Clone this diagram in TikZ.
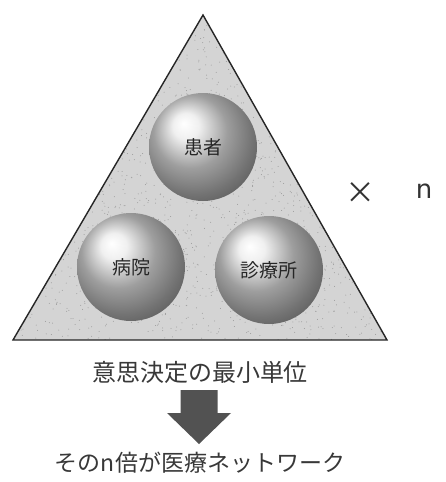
\documentclass[tikz,border=0pt]{standalone}
\usepackage{fontspec}
\newfontfamily\jp{Noto Sans CJK JP}
\setsansfont{DejaVu Sans}
\pgfdeclareradialshading{softball}{\pgfpoint{-9bp}{11bp}}{%
  color(0bp)=(white); color(6bp)=(black!6); color(17bp)=(black!38);
  color(27bp)=(black!55); color(36bp)=(black!68); color(50bp)=(black!75)}
\begin{document}
\begin{tikzpicture}[x=1pt,y=-1pt,
  ball/.style={circle, minimum size=108pt, inner sep=0pt, shading=softball},
  balltext/.style={font=\jp\fontsize{19}{19}\selectfont, text=black!85},
  label/.style={font=\jp\fontsize{24}{24}\selectfont, text=black!78},
  blockarrow/.style={fill=black!68}]
\useasboundingbox (0,0) rectangle (445,482);
% triangle
\coordinate (apex) at (203,15);
\coordinate (bl) at (13,340);
\coordinate (br) at (387,340);
\fill[black!17] (apex) -- (bl) -- (br) -- cycle;
\pgfmathsetseed{7}
\foreach \i in {1,...,1100}{
  \pgfmathsetmacro{\u}{rnd}
  \pgfmathsetmacro{\v}{rnd}
  \pgfmathsetmacro{\w}{sqrt(\u)}
  \pgfmathsetmacro{\px}{203 + \w*((1-\v)*(-190) + \v*184)}
  \pgfmathsetmacro{\py}{15 + \w*325}
  \fill[black!40] (\px,\py) circle (0.5);
}
\draw[line width=1.4pt, line join=miter, black!85] (apex) -- (bl) -- (br) -- cycle;
% balls
\node[ball] (kanja) at (203,147) {};
\node[ball] (byoin) at (131,267) {};
\node[ball] (shinryo) at (269,270) {};
\node[balltext] at (kanja) {患者};
\node[balltext] at (byoin) {病院};
\node[balltext] at (shinryo) {診療所};
% times n
\node[font=\jp\fontsize{30}{30}\selectfont, text=black!80] (times) at (360,193) {×};
\node[font=\sffamily\fontsize{26}{26}\selectfont, text=black!80] (n) at (424,191) {n};
% labels
\node[label] (unit) at (200,372) {意思決定の最小単位};
\node[font=\jp\fontsize{23}{23}\selectfont, text=black!78] (net) at (200,463) {そのn倍が医療ネットワーク};
% block arrow
\coordinate (atop) at (199,390);
\fill[blockarrow] (atop) ++(-18.5,0) -- ++(37,0) -- ++(0,23) -- ++(13.5,0) -- (199,444) -- (167,413) -- (180.5,413) -- cycle;
\end{tikzpicture}
\end{document}
